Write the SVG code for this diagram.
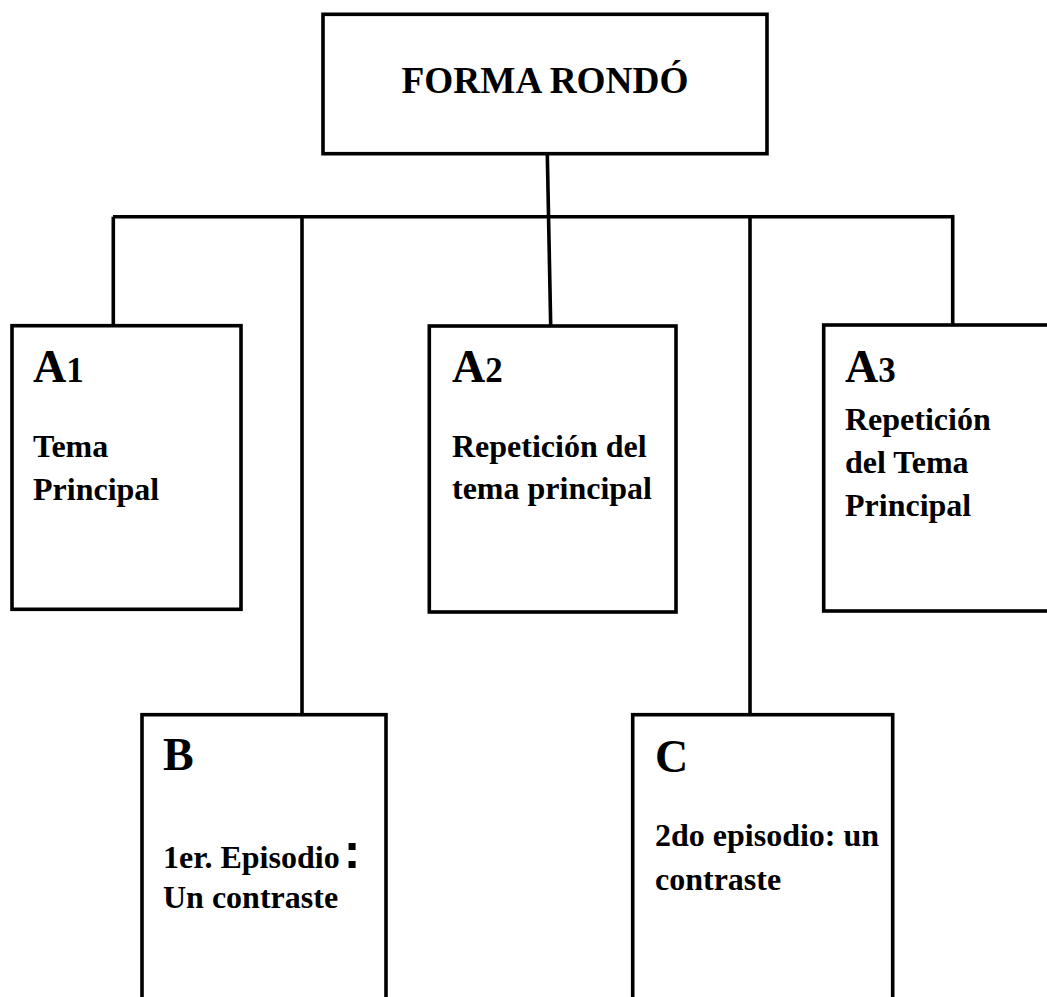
<svg xmlns="http://www.w3.org/2000/svg" width="1047" height="997" viewBox="0 0 1047 997">
<style>
.box{fill:#fff;stroke:#000;stroke-width:3.6}
.ln{fill:none;stroke:#000;stroke-width:3.6}
.t{font-family:"Liberation Serif","Times New Roman",serif;font-weight:bold;fill:#000}
.body{font-size:32px}
.big{font-size:46px}
.sub{font-size:35px}
</style>
<rect width="1047" height="997" fill="#fff"/>
<g id="connectors">
<line class="ln" x1="113" y1="216.7" x2="953" y2="216.7"/>
<line class="ln" x1="547.3" y1="154" x2="550.7" y2="326"/>
<line class="ln" x1="113.3" y1="216.7" x2="113.3" y2="326"/>
<line class="ln" x1="302" y1="216.7" x2="302" y2="715"/>
<line class="ln" x1="750" y1="216.7" x2="750" y2="715"/>
<line class="ln" x1="952.7" y1="214.9" x2="952.7" y2="325"/>
</g>
<g id="forma-rondo">
<rect class="box" x="323" y="14.3" width="444" height="139.4"/>
<text class="t" x="545" y="93" font-size="37.3" text-anchor="middle">FORMA RONDÓ</text>
</g>
<g id="a1">
<rect class="box" x="12" y="325.7" width="229" height="283.6"/>
<text class="t" x="33" y="382"><tspan class="big">A</tspan><tspan class="sub">1</tspan></text>
<text class="t body" x="33" y="457">Tema</text>
<text class="t body" x="33" y="500">Principal</text>
</g>
<g id="a2">
<rect class="box" x="429.3" y="326" width="246.7" height="286"/>
<text class="t" x="452" y="382"><tspan class="big">A</tspan><tspan class="sub">2</tspan></text>
<text class="t body" x="452" y="457">Repetición del</text>
<text class="t body" x="452" y="499">tema principal</text>
</g>
<g id="a3">
<rect class="box" x="823.7" y="325" width="240" height="286"/>
<text class="t" x="845" y="382"><tspan class="big">A</tspan><tspan class="sub">3</tspan></text>
<text class="t body" x="845" y="430">Repetición</text>
<text class="t body" x="845" y="473">del Tema</text>
<text class="t body" x="845" y="516">Principal</text>
</g>
<g id="b">
<rect class="box" x="142" y="714.7" width="244" height="300"/>
<text class="t big" x="163" y="770">B</text>
<text class="t body" x="163" y="868">1er. Episodio<tspan dx="4" font-family="Liberation Sans, Arial, sans-serif" font-size="50">:</tspan></text>
<text class="t body" x="163" y="908">Un contraste</text>
</g>
<g id="c">
<rect class="box" x="632.7" y="714.7" width="260" height="300"/>
<text class="t big" x="655" y="772">C</text>
<text class="t body" x="655" y="846">2do episodio: un</text>
<text class="t body" x="655" y="890">contraste</text>
</g>
</svg>
